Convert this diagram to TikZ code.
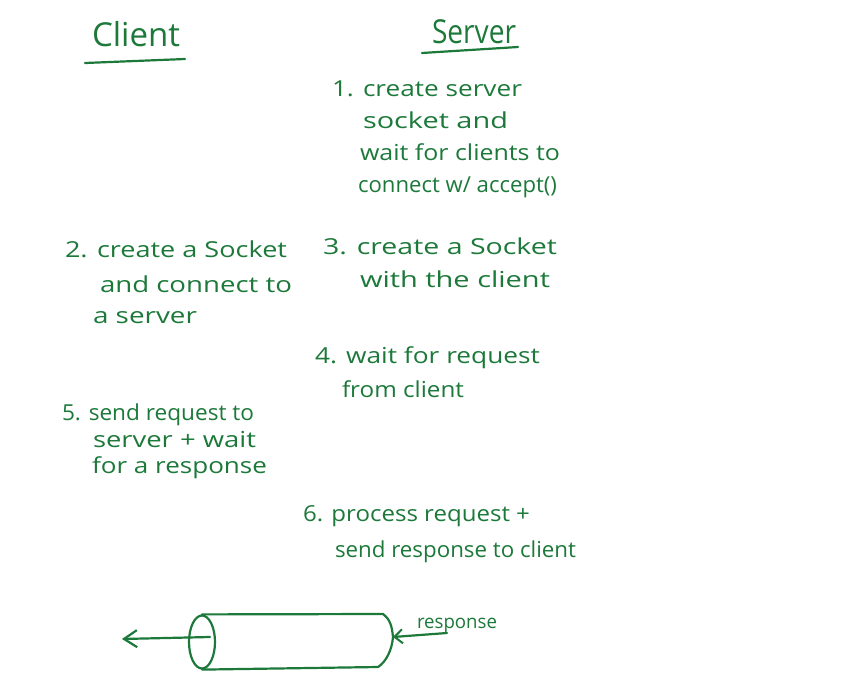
\documentclass[tikz,border=0pt]{standalone}
\usepackage{fontspec}
\setmainfont{Open Sans}
\usepackage{graphicx}
\usetikzlibrary{arrows.meta,shapes.geometric}
\definecolor{ink}{RGB}{28,121,58}
\newcommand\fitw[2]{\resizebox{#1pt}{\height}{#2}}
\tikzset{
  hw/.style={anchor=base west,inner sep=0pt,outer sep=0pt,text=ink,font=\fontsize{22}{26}\selectfont},
  ttl/.style={anchor=base west,inner sep=0pt,outer sep=0pt,text=ink,font=\fontsize{33}{38}\selectfont},
  pen/.style={draw=ink,line width=2.2pt,line cap=round,line join=round},
  arr/.style={pen,-{Straight Barb[length=13pt,width=17pt,line width=2.2pt]}},
  sarr/.style={pen,-{Straight Barb[length=8pt,width=14pt,line width=2pt]}}
}
\begin{document}
\begin{tikzpicture}[x=1pt,y=-1pt]
\useasboundingbox[fill=white] (0,0) rectangle (860,675);
% titles
\node[ttl] (client) at (92,46) {\fitw{88}{Client}};
\node[ttl] (server) at (432,43) {\fitw{84}{Server}};
\coordinate (cu1) at (85,63); \coordinate (cu2) at (185,59);
\coordinate (su1) at (422,53); \coordinate (su2) at (518,47);
\draw[pen] (cu1) -- (cu2);
\draw[pen] (su1) -- (su2);
% item 1
\node[hw] (i1a) at (332,96) {\fitw{190}{1. create server}};
\node[hw] (i1b) at (363,128) {\fitw{145}{socket and}};
\node[hw] (i1c) at (360,160) {\fitw{200}{wait for clients to}};
\node[hw] (i1d) at (358,192) {\fitw{199}{connect w/ accept()}};
% item 2
\node[hw] (i2a) at (65,257) {\fitw{222}{2. create a Socket}};
\node[hw] (i2b) at (100,292) {\fitw{192}{and connect to}};
\node[hw] (i2c) at (93,323) {\fitw{104}{a server}};
% item 3
\node[hw] (i3a) at (323,254) {\fitw{234}{3. create a Socket}};
\node[hw] (i3b) at (360,287) {\fitw{190}{with the client}};
% item 4
\node[hw] (i4a) at (315,363) {\fitw{225}{4. wait for request}};
\node[hw] (i4b) at (342,397) {\fitw{122}{from client}};
% item 5
\node[hw] (i5a) at (62,420) {\fitw{192}{5. send request to}};
\node[hw] (i5b) at (93,447) {\fitw{163}{server + wait}};
\node[hw] (i5c) at (92,473) {\fitw{175}{for a response}};
% item 6
\node[hw] (i6a) at (303,521) {\fitw{227}{6. process request +}};
\node[hw] (i6b) at (335,557) {\fitw{241}{send response to client}};
% pipe
\node[ellipse,pen,minimum width=26pt,minimum height=53pt,inner sep=0pt] (pend) at (202,642) {};
\coordinate (rt) at (383,614);
\coordinate (rm) at (393,637);
\coordinate (rb) at (378,667);
\draw[pen] (pend.north) -- (rt);
\draw[pen] (pend.south) -- (rb);
\draw[pen] (rt) .. controls (391,620) and (392,628) .. (rm) .. controls (392,650) and (386,662) .. (rb);
\coordinate (ltip) at (122,639);
\coordinate (lstart) at (210,637);
\draw[arr] (lstart) -- (ltip);
\coordinate (rtail) at (447,633);
\draw[sarr] (rtail) -- (rm);
\node[hw,font=\fontsize{19}{22}\selectfont] (resp) at (417,628) {\fitw{80}{response}};
\end{tikzpicture}
\end{document}
